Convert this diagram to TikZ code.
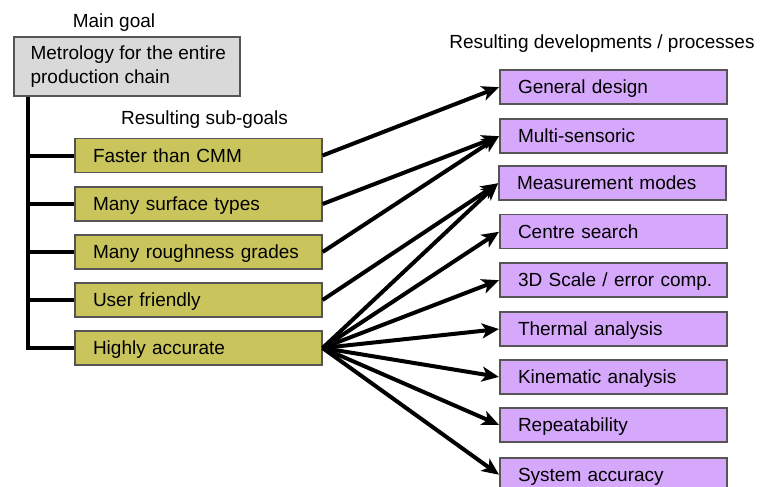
\documentclass[tikz,border=0pt]{standalone}
\usepackage{fontspec}
\setmainfont{Liberation Sans}
\usetikzlibrary{arrows.meta}
\definecolor{goalgray}{HTML}{D9D9D9}
\definecolor{subolive}{HTML}{C9C55C}
\definecolor{devlav}{HTML}{D6A8FC}
\definecolor{edgegray}{HTML}{555555}
\tikzset{
  txt/.style={font=\fontsize{19}{24}\selectfont, inner sep=0pt},
  boxbase/.style={draw=edgegray, line width=1.2pt, txt, align=left,
    text height=13.6pt, text depth=0pt},
  goalbox/.style={boxbase, fill=goalgray, text width=226pt, minimum height=59pt},
  subbox/.style={boxbase, fill=subolive, text width=247pt, minimum height=34pt},
  devbox/.style={boxbase, fill=devlav, text width=227pt, minimum height=34pt},
  trunk/.style={line width=4pt},
  arr/.style={line width=4pt, -{Stealth[length=17pt, width=15pt, inset=4.5pt]}, shorten >=0.5pt}
}
\newcommand{\pad}{\hspace*{18pt}}
\begin{document}
\begin{tikzpicture}[x=1pt, y=-1pt]
\useasboundingbox (0,0) rectangle (760,487);

% labels
\node[txt] (lmain) at (114,23) {Main goal};
\node[txt] (lsub) at (204.5,120) {Resulting sub-goals};
\node[txt] (ldev) at (602,44) {Resulting developments / processes};

% main goal
\node[goalbox, text height=0pt, text depth=0pt] (goal) at (127,66.5) {};
\node[txt, anchor=west, align=left] (goaltxt) at ([xshift=17pt]goal.west) {Metrology for the entire\\production chain};

% sub-goals
\node[subbox] (s1) at (198.5,155.5) {\pad Faster than CMM};
\node[subbox] (s2) at (198.5,204) {\pad Many surface types};
\node[subbox] (s3) at (198.5,252) {\pad Many roughness grades};
\node[subbox] (s4) at (198.5,300) {\pad User friendly};
\node[subbox] (s5) at (198.5,348) {\pad Highly accurate};

% developments
\node[devbox] (d1) at (613.5,87) {\pad General design};
\node[devbox] (d2) at (613.5,136) {\pad Multi-sensoric};
\node[devbox] (d3) at (612.5,183) {\pad Measurement modes};
\node[devbox] (d4) at (613.5,231.5) {\pad Centre search};
\node[devbox] (d5) at (613.5,280) {\pad 3D Scale / error comp.};
\node[devbox] (d6) at (613.5,329) {\pad Thermal analysis};
\node[devbox] (d7) at (613.5,377) {\pad Kinematic analysis};
\node[devbox] (d8) at (613.5,425) {\pad Repeatability};
\node[devbox] (d9) at (613.5,475) {\pad System accuracy};

% trunk
\coordinate (tk) at ([xshift=-99pt]goal.south);
\draw[trunk] (tk) |- (s5.west);
\foreach \s in {s1,s2,s3,s4} {
  \draw[trunk] (tk |- \s.west) -- (\s.west);
}

% arrows
\draw[arr] (s1.east) -- (d1.west);
\draw[arr] (s2.east) -- (d2.west);
\draw[arr] (s3.east) -- (d2.west);
\draw[arr] (s4.east) -- (d3.west);
\foreach \d in {d3,d4,d5,d6,d7,d8,d9} {
  \draw[arr] (s5.east) -- (\d.west);
}
\end{tikzpicture}
\end{document}
